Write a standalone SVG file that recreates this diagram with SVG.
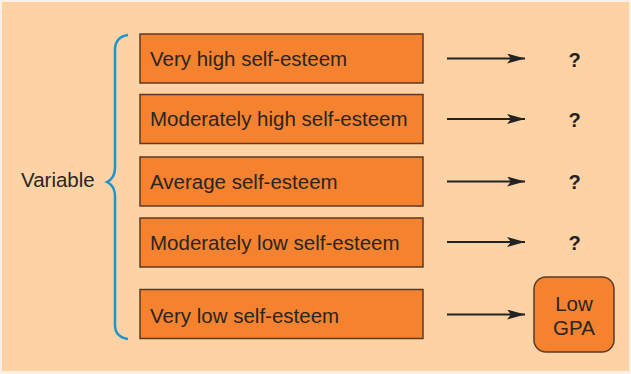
<svg xmlns="http://www.w3.org/2000/svg" width="631" height="374" viewBox="0 0 631 374">
<defs>
<style>
.box{fill:#F5822F;stroke:#5A3A26;stroke-width:1.5}
.lbl{font-family:"Liberation Sans",Arial,sans-serif;font-size:20.5px;fill:#2B2520}
.q{font-family:"Liberation Sans",Arial,sans-serif;font-size:20px;font-weight:bold;fill:#222;text-anchor:middle}
.arr{stroke:#222;stroke-width:2.2;fill:none;marker-end:url(#ah)}
</style>
<marker id="ah" viewBox="0 0 18 10" refX="18" refY="5" markerWidth="18" markerHeight="10" markerUnits="userSpaceOnUse" orient="auto">
<path d="M0,0 L18,5 L0,10 L4,5 Z" fill="#222"/>
</marker>
</defs>
<rect x="0" y="0" width="631" height="374" fill="#FDF0E4"/>
<rect x="2" y="2" width="627" height="369" fill="#FDD3A6"/>
<g id="variable"><text class="lbl" x="21" y="187">Variable</text></g>
<g id="brace"><path d="M128,35 Q115,37 115,50 L115,168 Q115,178 107,182 Q115,186 115,196 L115,325 Q115,337 128,339" fill="none" stroke="#1A96CF" stroke-width="2.5"/></g>
<g id="n1"><rect class="box" x="140" y="34" width="283" height="49"/><text class="lbl" x="150" y="66">Very high self-esteem</text></g>
<g id="n2"><rect class="box" x="140" y="94.5" width="283" height="49"/><text class="lbl" x="150" y="126">Moderately high self-esteem</text></g>
<g id="n3"><rect class="box" x="140" y="157" width="283" height="49"/><text class="lbl" x="150" y="189">Average self-esteem</text></g>
<g id="n4"><rect class="box" x="140" y="218" width="283" height="49"/><text class="lbl" x="150" y="250">Moderately low self-esteem</text></g>
<g id="n5"><rect class="box" x="140" y="289.5" width="283" height="49"/><text class="lbl" x="150" y="323">Very low self-esteem</text></g>
<g id="q1"><text class="q" x="574.5" y="66.5">?</text></g>
<g id="q2"><text class="q" x="574.5" y="126.5">?</text></g>
<g id="q3"><text class="q" x="574.5" y="189">?</text></g>
<g id="q4"><text class="q" x="574.5" y="250">?</text></g>
<g id="gpa"><rect class="box" x="534" y="277" width="80" height="75" rx="12"/><text class="lbl" x="574" y="311" text-anchor="middle">Low</text><text class="lbl" x="574" y="335" text-anchor="middle">GPA</text></g>
<g id="connectors">
<line class="arr" x1="447" y1="58.5" x2="525" y2="58.5"/>
<line class="arr" x1="447" y1="119" x2="525" y2="119"/>
<line class="arr" x1="447" y1="181.5" x2="525" y2="181.5"/>
<line class="arr" x1="447" y1="242" x2="525" y2="242"/>
<line class="arr" x1="447" y1="314.5" x2="525" y2="314.5"/>
</g>
</svg>
